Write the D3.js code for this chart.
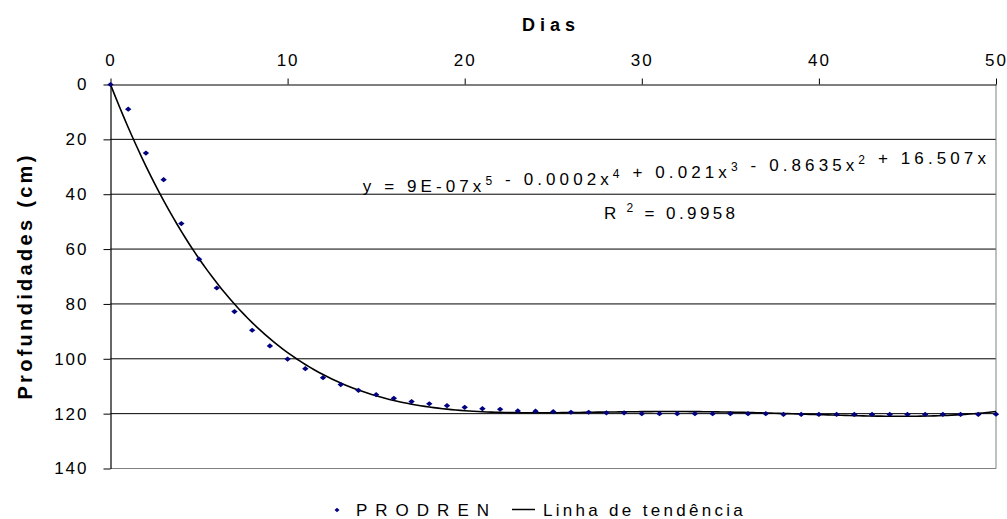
<!DOCTYPE html>
<html>
<head>
<meta charset="utf-8">
<script src="https://cdn.jsdelivr.net/npm/d3@7"></script>
<style>
  html, body { margin: 0; padding: 0; background: #fff; }
  svg { display: block; }
  text { font-family: "Liberation Sans", Arial, sans-serif; fill: #000; }
</style>
</head>
<body>
<svg id="chart" width="1007" height="519"></svg>
<script>
// Days of observation (top axis) and measured water-table depth (cm)
const dias = d3.range(0, 51);
const profundidades = [
  0, 9, 25, 34.7, 50.7, 63.7, 74.2, 82.8, 89.6, 95.3,
  100.1, 103.6, 106.9, 109.4, 111.5, 113.1, 114.4, 115.6, 116.4, 117.1,
  117.7, 118.2, 118.4, 119.0, 119.1, 119.3, 119.5, 119.5, 119.7, 119.7,
  120.0, 120.0, 120.0, 120.0, 120.0, 120.0, 120.0, 120.0, 120.3, 120.3,
  120.3, 120.3, 120.3, 120.3, 120.3, 120.3, 120.3, 120.3, 120.3, 120.3,
  120.2
];
const xTicks = [0, 10, 20, 30, 40, 50];
const yTicks = [0, 20, 40, 60, 80, 100, 120, 140];
const serieNome = "PRODREN";
const tendenciaNome = "Linha de tendência";
const grau = 5; // polynomial trend, intercept fixed at zero

const svg = d3.select("#chart");

const x = d3.scaleLinear().domain([0, 50]).range([110.5, 996]);
const y = d3.scaleLinear().domain([0, 140]).range([84.5, 468.5]);

// Horizontal gridlines
svg.append("g")
  .selectAll("line")
  .data(yTicks.filter(d => d > 0 && d < 140))
  .join("line")
  .attr("x1", x(0)).attr("x2", x(50))
  .attr("y1", d => y(d)).attr("y2", d => y(d))
  .attr("stroke", "#000").attr("stroke-width", 1);

// Right and bottom edges of the plot area
svg.append("path")
  .attr("d", `M${x(0)},${y(140)}H${x(50)}V${y(0)}`)
  .attr("fill", "none").attr("stroke", "#808080").attr("stroke-width", 1);

// Top axis (days)
const xAxis = svg.append("g")
  .attr("transform", `translate(0,${y(0)})`)
  .call(d3.axisTop(x).tickValues(xTicks).tickSize(6).tickSizeOuter(0).tickPadding(13));
// Left axis (depth)
const yAxis = svg.append("g")
  .attr("transform", `translate(${x(0)},0)`)
  .call(d3.axisLeft(y).tickValues(yTicks).tickSize(7).tickSizeOuter(0).tickPadding(15));

[xAxis, yAxis].forEach(g => {
  g.selectAll(".domain").attr("stroke", "#000").attr("stroke-width", 1.2);
  g.selectAll(".tick line").attr("stroke", "#000");
  g.selectAll(".tick text")
    .attr("font-size", 17).attr("letter-spacing", "2px")
    .attr("font-family", "Liberation Sans, Arial, sans-serif").attr("fill", "#000");
});

// Least-squares polynomial fit through the origin
function ajustePolinomial(xs, ys, n) {
  const s = 50; // scale x for numerical stability
  const A = Array.from({length: n}, () => new Array(n + 1).fill(0));
  xs.forEach((xv, k) => {
    const t = xv / s;
    const b = d3.range(1, n + 1).map(p => Math.pow(t, p));
    for (let i = 0; i < n; i++) {
      for (let j = 0; j < n; j++) A[i][j] += b[i] * b[j];
      A[i][n] += b[i] * ys[k];
    }
  });
  for (let c = 0; c < n; c++) {
    let piv = c;
    for (let r = c + 1; r < n; r++) if (Math.abs(A[r][c]) > Math.abs(A[piv][c])) piv = r;
    [A[c], A[piv]] = [A[piv], A[c]];
    for (let r = 0; r < n; r++) {
      if (r === c) continue;
      const f = A[r][c] / A[c][c];
      for (let k = c; k <= n; k++) A[r][k] -= f * A[c][k];
    }
  }
  const coef = A.map((row, i) => row[n] / row[i]);
  return xv => coef.reduce((acc, cf, i) => acc + cf * Math.pow(xv / s, i + 1), 0);
}
const tendencia = ajustePolinomial(dias, profundidades, grau);
const amostras = d3.range(0, 50.001, 0.25);

svg.append("path")
  .datum(amostras)
  .attr("d", d3.line().x(d => x(d)).y(d => y(tendencia(d))))
  .attr("fill", "none").attr("stroke", "#000").attr("stroke-width", 1.6);

// Measured points
const diamante = "M-3.2,0L0,-2.6L3.2,0L0,2.6Z";
svg.append("g")
  .selectAll("path")
  .data(dias.map((d, i) => [d, profundidades[i]]))
  .join("path")
  .attr("d", diamante)
  .attr("transform", d => `translate(${x(d[0])},${y(d[1])})`)
  .attr("fill", "#000080");

// Axis titles
svg.append("text")
  .attr("x", 551).attr("y", 31)
  .attr("text-anchor", "middle")
  .attr("font-size", 18).attr("font-weight", "bold").attr("letter-spacing", "5px")
  .text("Dias");

svg.append("text")
  .attr("transform", "translate(32,276) rotate(-90)")
  .attr("text-anchor", "middle")
  .attr("font-size", 20).attr("font-weight", "bold").attr("letter-spacing", "3.3px")
  .text("Profundidades (cm)");

// Trend equation and R²
const eq = svg.append("text")
  .attr("x", 990).attr("y", 192)
  .attr("text-anchor", "end")
  .attr("font-size", 17).attr("letter-spacing", "4.1px");
const partes = [
  ["y = 9E-07x", "5"], [" - 0.0002x", "4"], [" + 0.021x", "3"],
  [" - 0.8635x", "2"], [" + 16.507x", ""]
];
partes.forEach(([base, exp]) => {
  eq.append("tspan").attr("dy", 0).text(base);
  if (exp) {
    eq.append("tspan").attr("dy", -7).attr("font-size", 12).text(exp);
    eq.append("tspan").attr("dy", 7).text("");
  }
});
const r2 = svg.append("text")
  .attr("x", 604).attr("y", 219)
  .attr("font-size", 17).attr("letter-spacing", "3.4px");
r2.append("tspan").text("R");
r2.append("tspan").attr("dy", -7).attr("font-size", 12).text(" 2");
r2.append("tspan").attr("dy", 7).text(" = 0.9958");

// Legend
const leg = svg.append("g");
leg.append("path").attr("d", "M-2.5,0L0,-2.2L2.5,0L0,2.2Z")
  .attr("transform", "translate(337,510)").attr("fill", "#000080");
leg.append("text").attr("x", 356).attr("y", 516)
  .attr("font-size", 17).attr("letter-spacing", "8px").text(serieNome);
leg.append("line").attr("x1", 512).attr("x2", 535).attr("y1", 509.5).attr("y2", 509.5)
  .attr("stroke", "#000").attr("stroke-width", 1.5);
leg.append("text").attr("x", 543).attr("y", 516)
  .attr("font-size", 17).attr("letter-spacing", "3.3px").text(tendenciaNome);
</script>
</body>
</html>
